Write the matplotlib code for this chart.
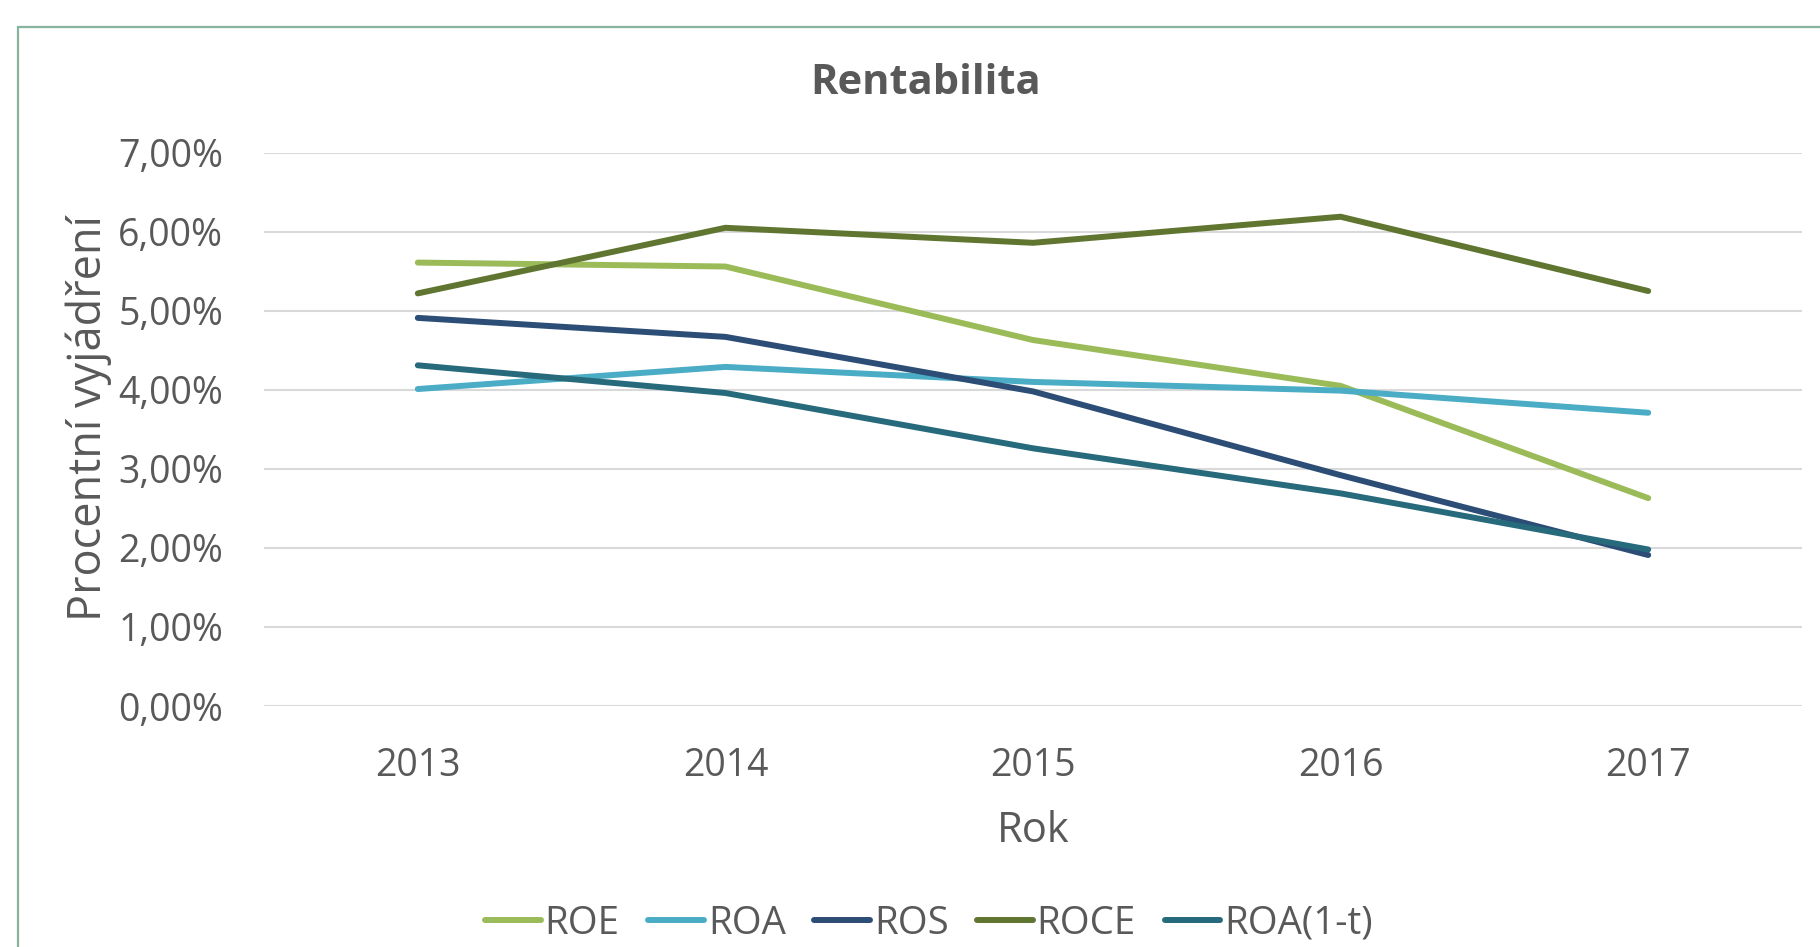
import matplotlib
matplotlib.use('Agg')
import matplotlib.pyplot as plt
from matplotlib.patches import Rectangle
from matplotlib.ticker import FuncFormatter, MultipleLocator

# values (in %)
years = ['2013', '2014', '2015', '2016', '2017']
roe = [5.61, 5.56, 4.63, 4.05, 2.63]
roa = [4.01, 4.29, 4.10, 3.99, 3.71]
ros = [4.91, 4.67, 3.98, 2.92, 1.91]
roce = [5.22, 6.05, 5.86, 6.19, 5.25]
roa_1t = [4.31, 3.96, 3.26, 2.69, 1.98]

series_names = ['ROE', 'ROA', 'ROS', 'ROCE', 'ROA(1-t)']
series_vals = [roe, roa, ros, roce, roa_1t]
colors = ['#9bbb59', '#4bacc6', '#2c4d75', '#5f7530', '#276a7c']

TEXT = '#595959'
plt.rcParams['font.family'] = ['Open Sans', 'DejaVu Sans']

fig = plt.figure(figsize=(18.2, 9.47), dpi=100)
ax = fig.add_axes([264 / 1820, 1 - 706 / 947, (1802 - 264) / 1820, (706 - 152.7) / 947])

x = list(range(len(years)))
for name, vals, c in zip(series_names, series_vals, colors):
    ax.plot(x, vals, color=c, linewidth=4.3, label=name,
            solid_capstyle='round', solid_joinstyle='round')

ax.set_xlim(-0.5, len(years) - 0.5)
ax.set_ylim(0, 7)
ax.yaxis.set_major_locator(MultipleLocator(1))
ax.yaxis.set_major_formatter(FuncFormatter(lambda v, p: f'{v:.2f}'.replace('.', ',') + '%'))
ax.set_xticks(x)
ax.set_xticklabels(years)
ax.grid(axis='y', color='#d9d9d9', linewidth=1.5)
ax.set_axisbelow(True)
for s in ax.spines.values():
    s.set_visible(False)
ax.tick_params(length=0, labelsize=27, colors=TEXT)
ax.tick_params(axis='y', pad=29.5)
ax.tick_params(axis='x', pad=29.5)

ax.set_xlabel('Rok', fontsize=30, color=TEXT, labelpad=18)
ax.set_ylabel('Procentní vyjádření', fontsize=32.5, color=TEXT)
ax.yaxis.set_label_coords(-0.099, 0.52)

fig.text(926 / 1820, 1 - 83 / 947, 'Rentabilita', ha='center', va='center',
         fontsize=30, fontweight='bold', color=TEXT)

fig.legend(loc='center', bbox_to_anchor=(929 / 1820, 1 - 923.5 / 947), ncol=5,
           frameon=False, fontsize=27.6, labelcolor=TEXT, handlelength=1.45,
           handletextpad=0.1, columnspacing=0.75)

# chart border (cropped at right and bottom)
fig.patches.append(Rectangle((18 / 1820, -0.1), 1.2, 1 - 27 / 947 + 0.1,
                             transform=fig.transFigure, fill=False,
                             edgecolor='#86b49c', linewidth=1.6))

fig.savefig('out.png', dpi=100)
